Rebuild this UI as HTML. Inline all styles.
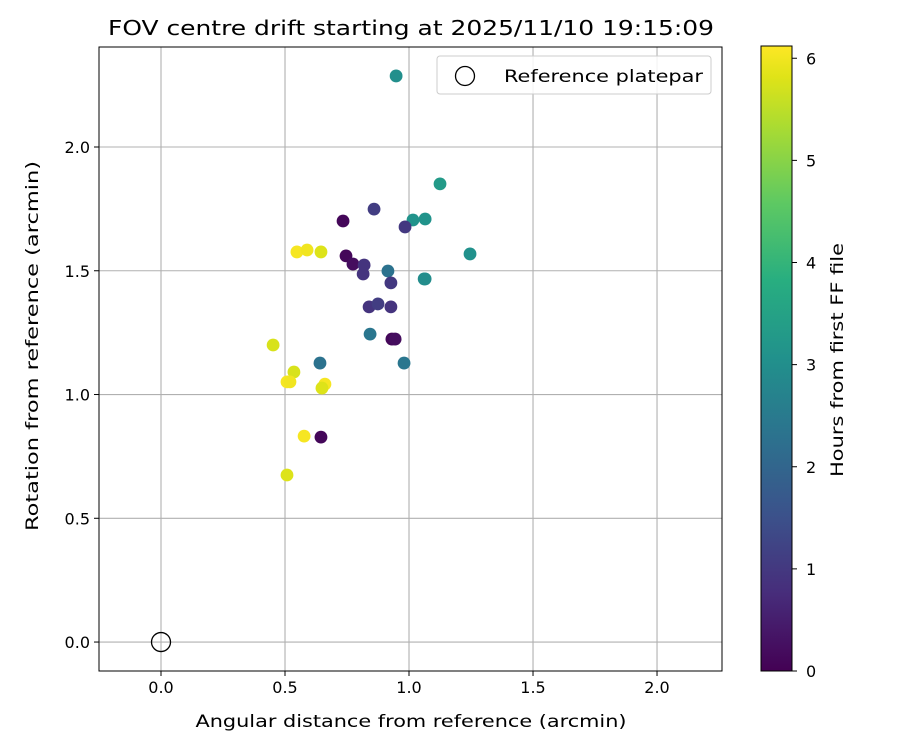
<!DOCTYPE html>
<html><head><meta charset="utf-8">
<style>
html,body{margin:0;padding:0;background:#fff;}
svg text{font-family:"DejaVu Sans","Liberation Sans",sans-serif;fill:#000;}
</style></head>
<body>
<svg id="chart" width="900" height="750" xmlns="http://www.w3.org/2000/svg">
<defs>
<linearGradient id="vir" x1="0" y1="1" x2="0" y2="0">
<stop offset="0" stop-color="#440154"/><stop offset="0.125" stop-color="#472d7b"/>
<stop offset="0.25" stop-color="#3b528b"/><stop offset="0.375" stop-color="#2c728e"/>
<stop offset="0.5" stop-color="#21918c"/><stop offset="0.625" stop-color="#28ae80"/>
<stop offset="0.75" stop-color="#5ec962"/><stop offset="0.875" stop-color="#addc30"/>
<stop offset="0.95" stop-color="#dfe318"/>
<stop offset="1" stop-color="#fde725"/>
</linearGradient>
</defs>
</svg>
<script>
const xVals=[0.948,1.125,1.246,1.065,1.016,1.065,1.061,0.734,0.859,0.984,0.746,0.774,0.819,0.815,0.915,0.927,0.839,0.875,0.927,0.843,0.931,0.944,0.980,0.641,0.645,0.548,0.589,0.645,0.452,0.536,0.508,0.520,0.661,0.649,0.577,0.508];
const yVals=[2.287,1.851,1.568,1.709,1.705,1.467,1.467,1.701,1.749,1.677,1.560,1.527,1.523,1.487,1.499,1.451,1.354,1.366,1.354,1.244,1.224,1.224,1.127,1.127,0.828,1.576,1.584,1.576,1.200,1.091,1.051,1.051,1.042,1.026,0.832,0.675];
const hours=[3.0,3.3,3.05,3.1,3.1,2.95,2.95,0.1,1.1,1.0,0.1,0.2,0.9,0.9,2.3,1.0,0.9,1.1,0.9,2.4,0.1,0.2,2.4,2.3,0.1,6.05,6.0,5.8,5.75,5.75,6.05,6.0,6.05,5.8,6.05,5.8];
const xTicks=[0.0,0.5,1.0,1.5,2.0];
const yTicks=[0.0,0.5,1.0,1.5,2.0];
const cTicks=[0,1,2,3,4,5,6];

const L=99,R=722,T=47,B=671;
const xMin=-0.25,xMax=2.262,yMin=-0.117,yMax=2.404;
const X=v=>L+(v-xMin)/(xMax-xMin)*(R-L);
const Y=v=>B-(v-yMin)/(yMax-yMin)*(B-T);
const cT=46,cB=671,cMax=6.12;
const CY=v=>cB-v/cMax*(cB-cT);
const stopPos=[0,0.125,0.25,0.375,0.5,0.625,0.75,0.875,0.95,1];
const stops=["#440154","#472d7b","#3b528b","#2c728e","#21918c","#28ae80","#5ec962","#addc30","#dfe318","#fde725"];
function hex(c){return [1,3,5].map(i=>parseInt(c.substr(i,2),16));}
function vir(t){t=Math.max(0,Math.min(1,t));let i=0;while(i<stopPos.length-2&&t>stopPos[i+1])i++;const f=(t-stopPos[i])/(stopPos[i+1]-stopPos[i]);const a=hex(stops[i]),b=hex(stops[i+1]);return `rgb(${a.map((v,k)=>Math.round(v+(b[k]-v)*f)).join(',')})`;}

const svg=document.getElementById('chart');
const NS='http://www.w3.org/2000/svg';
function mk(tag,attrs,parent){const e=document.createElementNS(NS,tag);for(const k in attrs)e.setAttribute(k,attrs[k]);(parent||svg).appendChild(e);return e;}

xTicks.forEach(v=>{const g=mk('line',{x1:X(v),x2:X(v),y1:T,y2:B,stroke:'#b0b0b0','stroke-width':1.1});

});
yTicks.forEach(v=>{const g=mk('line',{x1:L,x2:R,y1:Y(v),y2:Y(v),stroke:'#b0b0b0','stroke-width':1.1});

});

xVals.forEach((xv,i)=>{const c=mk('circle',{cx:X(xv),cy:Y(yVals[i]),r:6.4,fill:vir(hours[i]/cMax)});

});

const ref=mk('circle',{cx:X(0),cy:Y(0),r:9.5,fill:'none',stroke:'#000','stroke-width':1.3});



const fr=mk('rect',{x:L,y:T,width:R-L,height:B-T,fill:'none',stroke:'#000','stroke-width':1});



xTicks.forEach(v=>{mk('line',{x1:X(v),x2:X(v),y1:B,y2:B+5,stroke:'#000'});
const t=mk('text',{x:X(v),y:B+22,'text-anchor':'middle','font-size':16});t.textContent=v.toFixed(1);

});
yTicks.forEach(v=>{mk('line',{x1:L-5,x2:L,y1:Y(v),y2:Y(v),stroke:'#000'});
const t=mk('text',{x:L-9,y:Y(v)+6,'text-anchor':'end','font-size':16});t.textContent=v.toFixed(1);

});

const cb=mk('rect',{x:761,y:cT,width:31,height:cB-cT,fill:'url(#vir)',stroke:'#000','stroke-width':1});


cTicks.forEach(v=>{mk('line',{x1:792,x2:797,y1:CY(v),y2:CY(v),stroke:'#000'});
const t=mk('text',{x:806,y:CY(v)+6,'font-size':16});t.textContent=v;

});
</script>
<svg style="position:absolute;left:0;top:0" width="900" height="750" xmlns="http://www.w3.org/2000/svg">
<text x="411" y="35" text-anchor="middle" font-size="20" textLength="606" lengthAdjust="spacingAndGlyphs" font-family="DejaVu Sans, Liberation Sans, sans-serif">FOV centre drift starting at 2025/11/10 19:15:09</text>
<text x="411" y="727" text-anchor="middle" font-size="17" textLength="431" lengthAdjust="spacingAndGlyphs" font-family="DejaVu Sans, Liberation Sans, sans-serif">Angular distance from reference (arcmin)</text>
<text transform="translate(38,346) rotate(-90)" text-anchor="middle" font-size="17" textLength="370" lengthAdjust="spacingAndGlyphs" font-family="DejaVu Sans, Liberation Sans, sans-serif">Rotation from reference (arcmin)</text>
<text transform="translate(843,360) rotate(-90)" text-anchor="middle" font-size="17" textLength="234" lengthAdjust="spacingAndGlyphs" font-family="DejaVu Sans, Liberation Sans, sans-serif">Hours from first FF file</text>
<g>
<rect x="437" y="56" width="274" height="38" rx="3" fill="#fff" fill-opacity="0.85" stroke="#ccc"/>
<circle cx="465" cy="76" r="9.5" fill="none" stroke="#000" stroke-width="1.3"/>
<text x="504" y="82" font-size="17" textLength="199" lengthAdjust="spacingAndGlyphs" font-family="DejaVu Sans, Liberation Sans, sans-serif">Reference platepar</text>
</g>
</svg>
</body></html>
